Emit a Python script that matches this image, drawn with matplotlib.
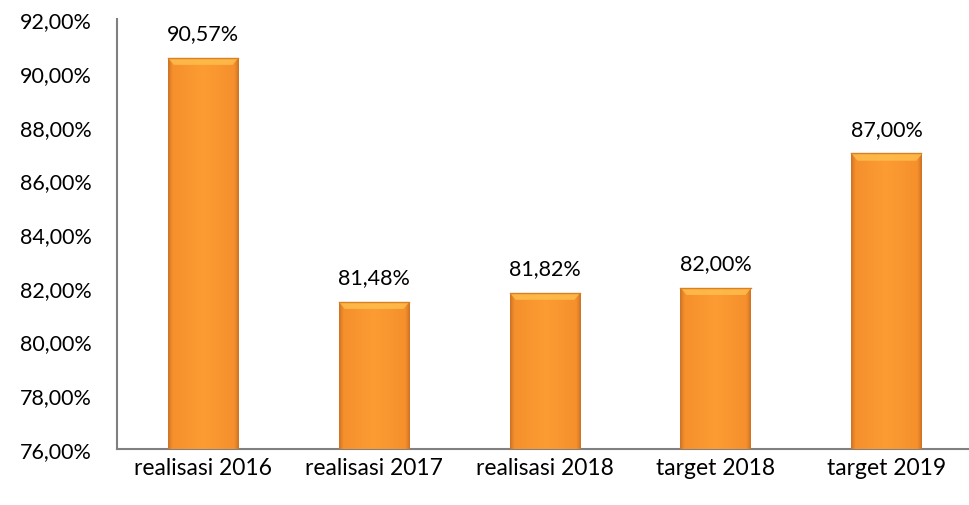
# Bar chart: realisasi vs target (percent)

import numpy as np
import matplotlib.pyplot as plt
from matplotlib.colors import LinearSegmentedColormap

categories = ['realisasi 2016', 'realisasi 2017', 'realisasi 2018', 'target 2018', 'target 2019']
values = [90.57, 81.48, 81.82, 82.00, 87.00]
labels = ['90,57%', '81,48%', '81,82%', '82,00%', '87,00%']
y_ticks = [76, 78, 80, 82, 84, 86, 88, 90, 92]

plt.rcParams['font.family'] = ['Lato', 'DejaVu Sans']

fig = plt.figure(figsize=(9.69, 5.06), dpi=100)
ax = fig.add_axes([0.121, 0.111, 0.882, 0.849])

x = np.arange(len(categories))
bars = ax.bar(x, values, width=0.41, color='#FB9A30', edgecolor='none', zorder=2)

# gradient fill, darker only near the sides, light bevel at the top
cmap = LinearSegmentedColormap.from_list('orng', [(0, '#CF7424'), (0.06, '#F5902C'),
                                                  (0.5, '#FD9C33'), (0.94, '#F5902C'),
                                                  (1, '#CF7424')])
grad = np.tile(np.linspace(0, 1, 200), (2, 1))
for b in bars:
    x0, w, h = b.get_x(), b.get_width(), b.get_height()
    im = ax.imshow(grad, cmap=cmap, aspect='auto', extent=[x0, x0 + w, 76, h],
                   interpolation='bilinear', zorder=3)
    im.set_clip_path(b)
    ax.fill_between([x0, x0 + w * 0.08, x0 + w * 0.92, x0 + w],
                    [h, h - 0.25, h - 0.25, h], h, color='#FFC04E',
                    alpha=0.8, zorder=4, linewidth=0)
    ax.plot([x0, x0 + w], [h, h], color='#D98020', lw=1, zorder=5)

for xi, v, lab in zip(x, values, labels):
    ax.text(xi, v + 0.55, lab, ha='center', va='bottom', fontsize=15.5, color='#000000')

ax.set_ylim(76, 92)
ax.set_xlim(-0.5, len(categories) - 0.5)
ax.set_yticks(y_ticks)
ax.set_yticklabels([f'{t},00%' for t in y_ticks], fontsize=15.5)
ax.set_xticks(x)
ax.set_xticklabels(categories, fontsize=16.5)
ax.tick_params(axis='both', length=0)
ax.tick_params(axis='y', pad=18)
ax.tick_params(axis='x', pad=6)

for s in ['top', 'right']:
    ax.spines[s].set_visible(False)
for s in ['left', 'bottom']:
    ax.spines[s].set_color('#808080')
    ax.spines[s].set_linewidth(1.5)

plt.savefig('out.png', dpi=100)
